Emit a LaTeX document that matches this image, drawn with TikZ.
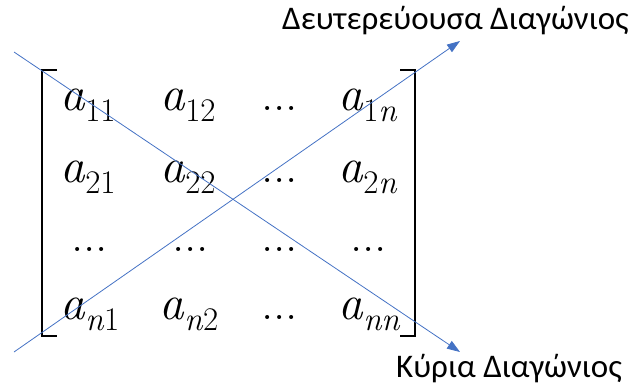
\documentclass[tikz,border=0pt]{standalone}
\usepackage{fontspec}
\newfontfamily\labelfont{Carlito}
\usetikzlibrary{arrows.meta}
\definecolor{diagblue}{HTML}{4472C4}
\newcommand\ent[1]{\textit{a}\raisebox{-11pt}{\fontsize{33}{33}\selectfont #1}}

\begin{document}
\begin{tikzpicture}[x=1pt, y=-1pt, >={Triangle[length=13pt, width=9pt]},
  entry/.style={anchor=base west, inner sep=0pt, font=\rmfamily\fontsize{49}{49}\selectfont},
  bracket/.style={black, line width=2pt},
  diag/.style={diagblue, line width=0.8pt, ->},
  diaglabel/.style={anchor=base west, inner sep=0pt, font=\labelfont\fontsize{33}{33}\selectfont}]
  \useasboundingbox (0,0) rectangle (638,386);

  % matrix entries
  \node[entry] (a11) at (60,110) {\ent{11}};
  \node[entry] (a12) at (160,110) {\ent{12}};
  \node[entry] (d13) at (261,110) {...};
  \node[entry] (a1n) at (338,110) {\ent{1\textit{n}}};
  \node[entry] (a21) at (60,182) {\ent{21}};
  \node[entry] (a22) at (160,182) {\ent{22}};
  \node[entry] (d23) at (261,182) {...};
  \node[entry] (a2n) at (338,182) {\ent{2\textit{n}}};
  \node[entry] (d31) at (71,251) {...};
  \node[entry] (d32) at (172,251) {...};
  \node[entry] (d33) at (261,251) {...};
  \node[entry] (d3n) at (350,251) {...};
  \node[entry] (an1) at (60,319) {\ent{\textit{n}1}};
  \node[entry] (an2) at (159,319) {\ent{\textit{n}2}};
  \node[entry] (dn3) at (261,319) {...};
  \node[entry] (ann) at (338,319) {\ent{\textit{nn}}};

  % brackets
  \draw[bracket] (57,70) -- (42,70) -- (42,336) -- (57,336);
  \draw[bracket] (400,70) -- (415,70) -- (415,336) -- (400,336);

  % diagonals
  \node[diaglabel] (second) at (282,29) {Δευτερεύουσα Διαγώνιος};
  \node[diaglabel] (main) at (396,377) {Κύρια Διαγώνιος};
  \coordinate (mainstart) at (14,52);
  \coordinate (maintip) at (460,352);
  \coordinate (secstart) at (14,352);
  \coordinate (sectip) at (460,41);
  \draw[diag] (mainstart) -- (maintip);
  \draw[diag] (secstart) -- (sectip);
\end{tikzpicture}
\end{document}
